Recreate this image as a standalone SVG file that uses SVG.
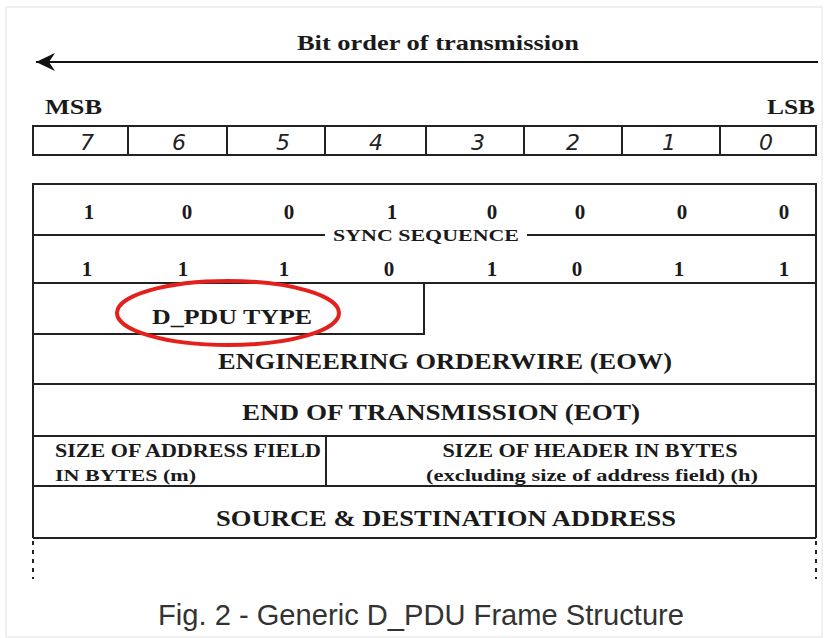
<svg xmlns="http://www.w3.org/2000/svg" width="825" height="638" viewBox="0 0 825 638">
<defs>
<marker id="ah" markerWidth="22" markerHeight="20" refX="1" refY="10" orient="auto" markerUnits="userSpaceOnUse">
<path d="M1,10 L20,1 L14,10 L20,19 Z" fill="#111"/>
</marker>
<style>
.ln{stroke:#222;stroke-width:2;fill:none}
.b{font-family:"Liberation Serif","Times New Roman",serif;font-weight:bold;fill:#1a1a1a}
.it{font-family:"DejaVu Sans",Verdana,sans-serif;font-style:italic;font-size:22px;fill:#222;text-anchor:middle}
.bit{font-family:"Liberation Serif","Times New Roman",serif;font-weight:bold;font-size:21px;fill:#1a1a1a;text-anchor:middle}
.c{text-anchor:middle}
</style>
</defs>
<rect width="825" height="638" fill="#fff"/>
<rect x="6" y="7" width="816" height="630" fill="none" stroke="#ececec" stroke-width="1.5"/>

<g id="connectors">
<line x1="36" y1="62" x2="818" y2="62" stroke="#111" stroke-width="2" marker-start="url(#ah)"/>
</g>

<g id="title">
<text class="b c" x="438" y="50" font-size="21" textLength="282" lengthAdjust="spacingAndGlyphs">Bit order of transmission</text>
</g>

<g id="msb-lsb">
<text class="b" x="45" y="114" font-size="21" textLength="57" lengthAdjust="spacingAndGlyphs">MSB</text>
<text class="b" x="815" y="114" font-size="21" text-anchor="end" textLength="48" lengthAdjust="spacingAndGlyphs">LSB</text>
</g>

<g id="bit-numbers">
<rect class="ln" x="33" y="126" width="783" height="29"/>
<path class="ln" d="M128,126V155M227,126V155M325,126V155M426,126V155M524,126V155M622,126V155M720,126V155"/>
<text class="it" x="87" y="150">7</text>
<text class="it" x="179" y="150">6</text>
<text class="it" x="283" y="150">5</text>
<text class="it" x="376" y="150">4</text>
<text class="it" x="478" y="150">3</text>
<text class="it" x="573" y="150">2</text>
<text class="it" x="669" y="150">1</text>
<text class="it" x="766" y="150">0</text>
</g>

<g id="sync-sequence">
<path class="ln" d="M33,538V184H816V538"/>
<path class="ln" d="M33,235H325M527,235H816"/>
<text class="b c" x="426" y="241" font-size="17" textLength="186" lengthAdjust="spacingAndGlyphs">SYNC SEQUENCE</text>
<g class="bit">
<text x="89" y="219">1</text>
<text x="187" y="219">0</text>
<text x="289" y="219">0</text>
<text x="392" y="219">1</text>
<text x="492" y="219">0</text>
<text x="580" y="219">0</text>
<text x="682" y="219">0</text>
<text x="784" y="219">0</text>
<text x="87" y="276">1</text>
<text x="183" y="276">1</text>
<text x="284" y="276">1</text>
<text x="389" y="276">0</text>
<text x="492" y="276">1</text>
<text x="577" y="276">0</text>
<text x="679" y="276">1</text>
<text x="784" y="276">1</text>
</g>
<line class="ln" x1="33" y1="283" x2="816" y2="283"/>
</g>

<g id="dpdu-type">
<path class="ln" d="M33,334H424V283"/>
<text class="b c" x="232" y="324" font-size="22" textLength="160" lengthAdjust="spacingAndGlyphs">D_PDU TYPE</text>
<ellipse cx="228" cy="313" rx="111" ry="32" fill="none" stroke="#e3201b" stroke-width="4"/>
</g>

<g id="eow">
<text class="b c" x="445" y="369" font-size="23" textLength="454" lengthAdjust="spacingAndGlyphs">ENGINEERING ORDERWIRE (EOW)</text>
<line class="ln" x1="33" y1="384" x2="816" y2="384"/>
</g>

<g id="eot">
<text class="b c" x="441" y="420" font-size="23" textLength="398" lengthAdjust="spacingAndGlyphs">END OF TRANSMISSION  (EOT)</text>
<line class="ln" x1="33" y1="436" x2="816" y2="436"/>
</g>

<g id="size-fields">
<line class="ln" x1="326" y1="436" x2="326" y2="486"/>
<text class="b" x="55" y="457" font-size="18" textLength="266" lengthAdjust="spacingAndGlyphs">SIZE OF ADDRESS FIELD</text>
<text class="b" x="55" y="481" font-size="17" textLength="141" lengthAdjust="spacingAndGlyphs">IN BYTES (m)</text>
<text class="b c" x="590" y="457" font-size="18" textLength="295" lengthAdjust="spacingAndGlyphs">SIZE OF HEADER IN BYTES</text>
<text class="b c" x="592" y="481" font-size="16" textLength="332" lengthAdjust="spacingAndGlyphs">(excluding size of address field) (h)</text>
<line class="ln" x1="33" y1="486" x2="816" y2="486"/>
</g>

<g id="address">
<text class="b c" x="446" y="526" font-size="23" textLength="460" lengthAdjust="spacingAndGlyphs">SOURCE &amp; DESTINATION ADDRESS</text>
<line class="ln" x1="33" y1="538" x2="816" y2="538"/>
<path d="M33,541V579M816,541V579" stroke="#222" stroke-width="2" stroke-dasharray="4,5"/>
</g>

<g id="caption">
<text x="421" y="625" font-family="'Liberation Sans',Arial,sans-serif" font-size="29" fill="#333" text-anchor="middle" textLength="526" lengthAdjust="spacingAndGlyphs">Fig. 2 - Generic D_PDU Frame Structure</text>
</g>
</svg>
